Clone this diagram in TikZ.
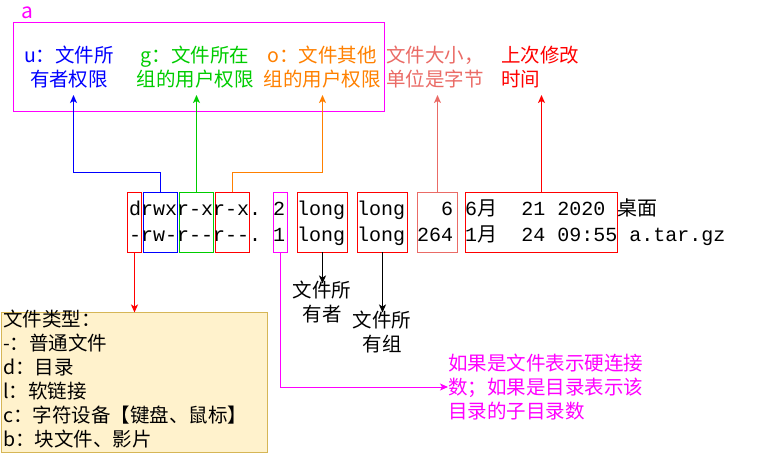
\documentclass[tikz,border=0pt]{standalone}
\usepackage{fontspec}
\setmainfont{Noto Sans CJK SC}
\setmonofont{Liberation Mono}
\newfontfamily\cjk{Noto Sans CJK SC}
\usetikzlibrary{arrows.meta}
\definecolor{cblue}{HTML}{0000FF}
\definecolor{cgreen}{HTML}{00CC00}
\definecolor{corange}{HTML}{FF8000}
\definecolor{cred}{HTML}{FF0000}
\definecolor{cmag}{HTML}{FF00FF}
\definecolor{csalmon}{HTML}{EA6B66}
\definecolor{ftfill}{HTML}{FFF2CC}
\definecolor{ftdraw}{HTML}{D6B656}
\begin{document}
\begin{tikzpicture}[x=1pt,y=-1pt,
  lbl/.style={inner sep=0pt, font=\fontsize{19.5}{24}\selectfont},
  mono/.style={inner sep=0pt, font=\fontsize{20}{26}\selectfont\ttfamily},
  cellbox/.style={draw=#1, color=#1, line width=1pt, inner sep=0pt, outer sep=0pt, minimum height=60pt, anchor=north west},
  conn/.style={line width=1pt, -{Stealth[length=8pt,width=7pt,inset=2pt]}}]
\useasboundingbox (0,0) rectangle (758,454);

% big magenta frame
\node[draw=cmag, line width=1pt, minimum width=371pt, minimum height=89pt, inner sep=0pt, outer sep=0pt, anchor=north west] (frame) at (13.5,22.5) {};
\node[lbl, text=cmag, font=\fontsize{21}{24}\selectfont, anchor=center] (alabel) at (27.5,13) {a};

% labels
\node[lbl, text=cblue, align=center] (ulbl) at (69,67) {u：文件所\\有者权限};
\node[lbl, text=cgreen, align=center] (glbl) at (195,67) {g：文件所在\\组的用户权限};
\node[lbl, text=corange, align=center] (olbl) at (322,67) {o：文件其他\\组的用户权限};
\node[lbl, text=csalmon, align=left, anchor=west] (slbl) at (386,67) {文件大小，\\单位是字节};
\node[lbl, text=cred, align=left, anchor=west] (tlbl) at (501,67) {上次修改\\时间};

\coordinate (ut) at (73.5,95);
\coordinate (gt) at (196.5,95);
\coordinate (ot) at (322.5,95);
\coordinate (st) at (437.5,95);
\coordinate (tt) at (541.5,95);

% cells
\node[cellbox=cred, minimum width=14pt] (dbox) at (127.5,192.5) {};
\node[cellbox=cblue, minimum width=34pt] (ubox) at (143.5,192.5) {};
\node[cellbox=cgreen, minimum width=34pt] (gbox) at (179.5,192.5) {};
\node[cellbox=cred, minimum width=34pt] (obox) at (215.5,192.5) {};
\node[cellbox=cmag, minimum width=14pt] (lbox) at (273.5,192.5) {};
\node[cellbox=cred, minimum width=50pt] (own) at (297.5,192.5) {};
\node[cellbox=cred, minimum width=50pt] (grp) at (357.5,192.5) {};
\node[cellbox=csalmon, minimum width=40pt] (size) at (417.5,192.5) {};
\node[cellbox=cred, minimum width=152pt] (date) at (465.5,192.5) {};

% listing text
\node[mono, anchor=base west] (row1) at (129,216) {drwxr{-}xr{-}x.\ 2\ long\ long\ \ \ 6\ 6{\cjk 月}\ \ 21\ 2020\ {\cjk 桌面}};
\node[mono, anchor=base west] (row2) at (129,242) {{-}rw{-}r{-}{-}r{-}{-}.\ 1\ long\ long\ 264\ 1{\cjk 月}\ \ 24\ 09:55\ a.tar.gz};

% connectors up
\draw[conn, cblue] (ubox.north) -- ++(0,-20) -| (ut);
\draw[conn, cgreen] (gbox.north) -- (gbox.north |- gt);
\draw[conn, corange] (obox.north) -- ++(0,-20) -| (ot);
\draw[conn, csalmon] (size.north) -- (st);
\draw[conn, cred] (date.north) -- (date.north |- tt);

% owner / group
\node[lbl, align=center] (ownlbl) at (322,302) {文件所\\有者};
\node[lbl, align=center] (grplbl) at (382,332) {文件所\\有组};
\draw[conn, black] (own.south) -- ++(0,31);
\draw[conn, black] (grp.south) -- ++(0,60);

% file type box
\node[draw=ftdraw, fill=ftfill, line width=1pt, minimum width=266pt, minimum height=140pt, inner sep=0pt, outer sep=0pt, anchor=north west] (ftbox) at (1.5,312.5) {};
\node[lbl, align=left, anchor=north west] (fttext) at (3,310) {文件类型：\\-：普通文件\\d：目录\\l：软链接\\c：字符设备【键盘、鼠标】\\b：块文件、影片};
\draw[conn, cred] (dbox.south) -- (dbox.south |- ftbox.north);

% links note
\node[lbl, text=cmag, align=left, anchor=west] (linknote) at (448,387) {如果是文件表示硬连接\\数；如果是目录表示该\\目录的子目录数};
\draw[conn, cmag] (lbox.south) |- (linknote.west);
\end{tikzpicture}
\end{document}
